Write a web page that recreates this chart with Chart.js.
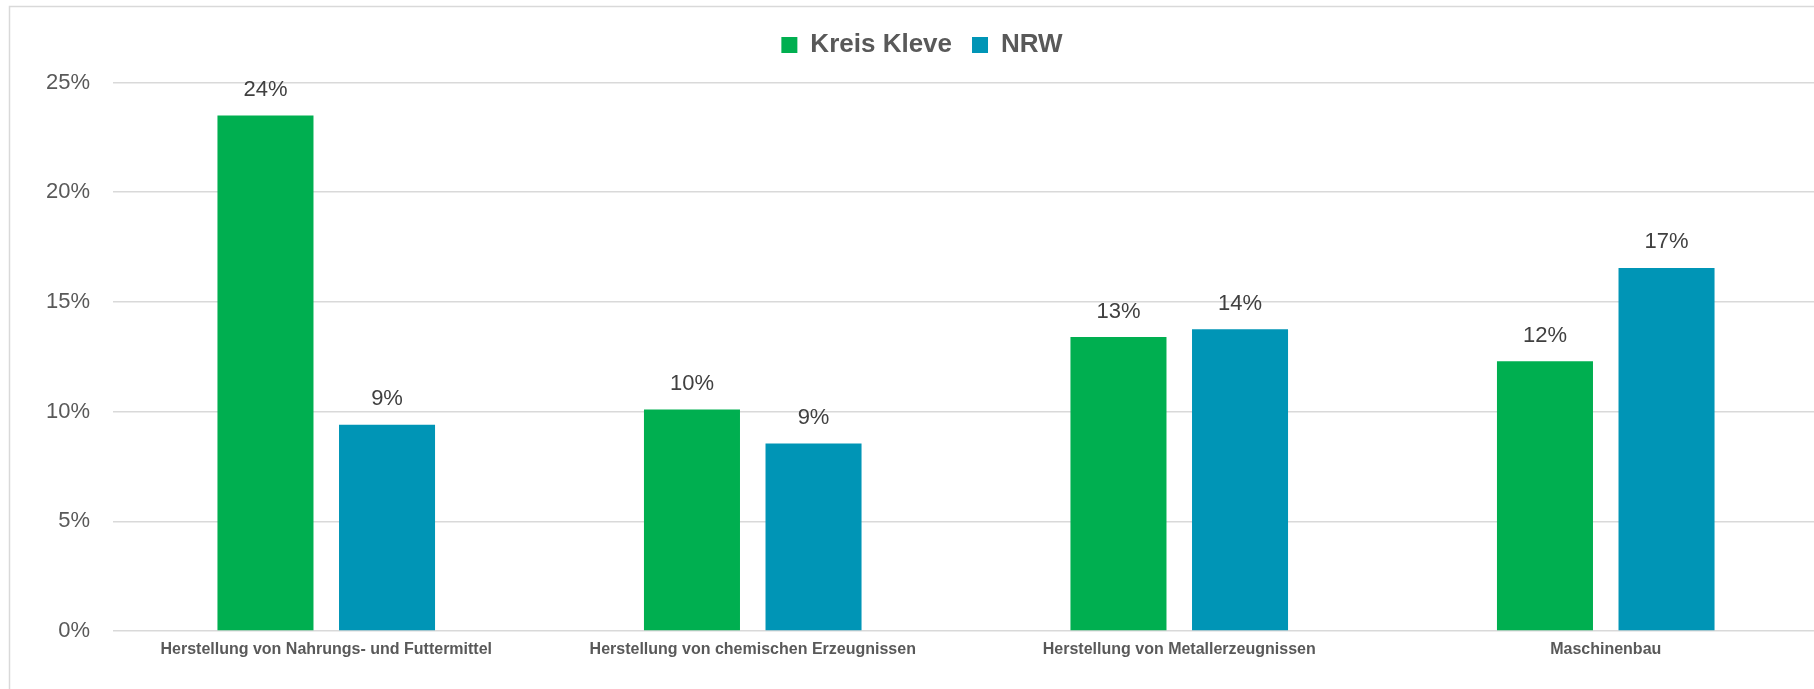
<!DOCTYPE html>
<html>
<head>
<meta charset="utf-8">
<script src="https://cdn.jsdelivr.net/npm/chart.js@4"></script>
<style>
  html, body { margin: 0; padding: 0; background: #fff; overflow: hidden; width: 1814px; height: 689px; }
  #c { position: absolute; left: 0; top: 0; }
</style>
</head>
<body>
<canvas id="c" width="1830" height="689" style="width:1830px;height:689px"></canvas>
<script>
const categories = [
  'Herstellung von Nahrungs- und Futtermittel',
  'Herstellung von chemischen Erzeugnissen',
  'Herstellung von Metallerzeugnissen',
  'Maschinenbau'
];
const seriesNames = ['Kreis Kleve', 'NRW'];
const kreisKleve = [23.5, 10.1, 13.4, 12.3];
const nrw = [9.4, 8.55, 13.75, 16.55];
const yTicks = [0, 5, 10, 15, 20, 25];

const frame = {
  id: 'frame',
  beforeDraw(chart) {
    const ctx = chart.ctx;
    ctx.save();
    ctx.strokeStyle = '#d9d9d9';
    ctx.lineWidth = 1.5;
    ctx.beginPath();
    ctx.moveTo(9.5, 700);
    ctx.lineTo(9.5, 6.5);
    ctx.lineTo(1830, 6.5);
    ctx.stroke();
    ctx.restore();
  }
};

const legendSpace = {
  id: 'legendSpace',
  beforeInit(chart) {
    const orig = chart.legend.fit;
    chart.legend.fit = function () {
      orig.call(this);
      this.height += 14.5;
    };
  }
};

const valueLabels = {
  id: 'valueLabels',
  afterDatasetsDraw(chart) {
    const ctx = chart.ctx;
    ctx.save();
    ctx.font = '22px "Liberation Sans", Arial, sans-serif';
    ctx.fillStyle = '#404040';
    ctx.textAlign = 'center';
    ctx.textBaseline = 'alphabetic';
    chart.data.datasets.forEach((ds, i) => {
      const meta = chart.getDatasetMeta(i);
      meta.data.forEach((bar, j) => {
        ctx.fillText(Math.round(ds.data[j]) + '%', bar.x, bar.y - 19.5);
      });
    });
    ctx.restore();
  }
};

new Chart(document.getElementById('c'), {
  type: 'bar',
  data: {
    labels: categories,
    datasets: [
      { label: seriesNames[0], data: kreisKleve, backgroundColor: '#00AF50' },
      { label: seriesNames[1], data: nrw, backgroundColor: '#0095B6' }
    ]
  },
  options: {
    responsive: false,
    animation: false,
    devicePixelRatio: 1,
    categoryPercentage: 0.57,
    barPercentage: 0.79,
    layout: { padding: { top: 12, left: 25, right: 11, bottom: 0 } },
    plugins: {
      tooltip: { enabled: false },
      legend: {
        position: 'top',
        labels: {
          boxWidth: 16,
          boxHeight: 16,
          padding: 20,
          color: '#595959',
          font: { family: '"Liberation Sans", Arial, sans-serif', size: 26, weight: 'bold' }
        }
      }
    },
    scales: {
      x: {
        grid: { display: false, drawTicks: false },
        border: { display: false },
        ticks: {
          padding: 9,
          maxRotation: 0,
          autoSkip: false,
          color: '#595959',
          font: { family: '"Liberation Sans Narrow", "Liberation Sans", Arial, sans-serif', size: 16, weight: 'bold' }
        },
        afterFit(scale) { scale.height = 58; }
      },
      y: {
        min: 0,
        max: 25,
        afterBuildTicks(scale) { scale.ticks = yTicks.map(v => ({ value: v })); },
        grid: { color: '#d9d9d9', lineWidth: 1.5, drawTicks: false },
        border: { display: false },
        ticks: {
          padding: 23,
          color: '#595959',
          font: { family: '"Liberation Sans", Arial, sans-serif', size: 22 },
          callback: v => v + '%'
        },
        afterFit(scale) { scale.width = 88; }
      }
    }
  },
  plugins: [frame, legendSpace, valueLabels]
});
</script>
</body>
</html>
